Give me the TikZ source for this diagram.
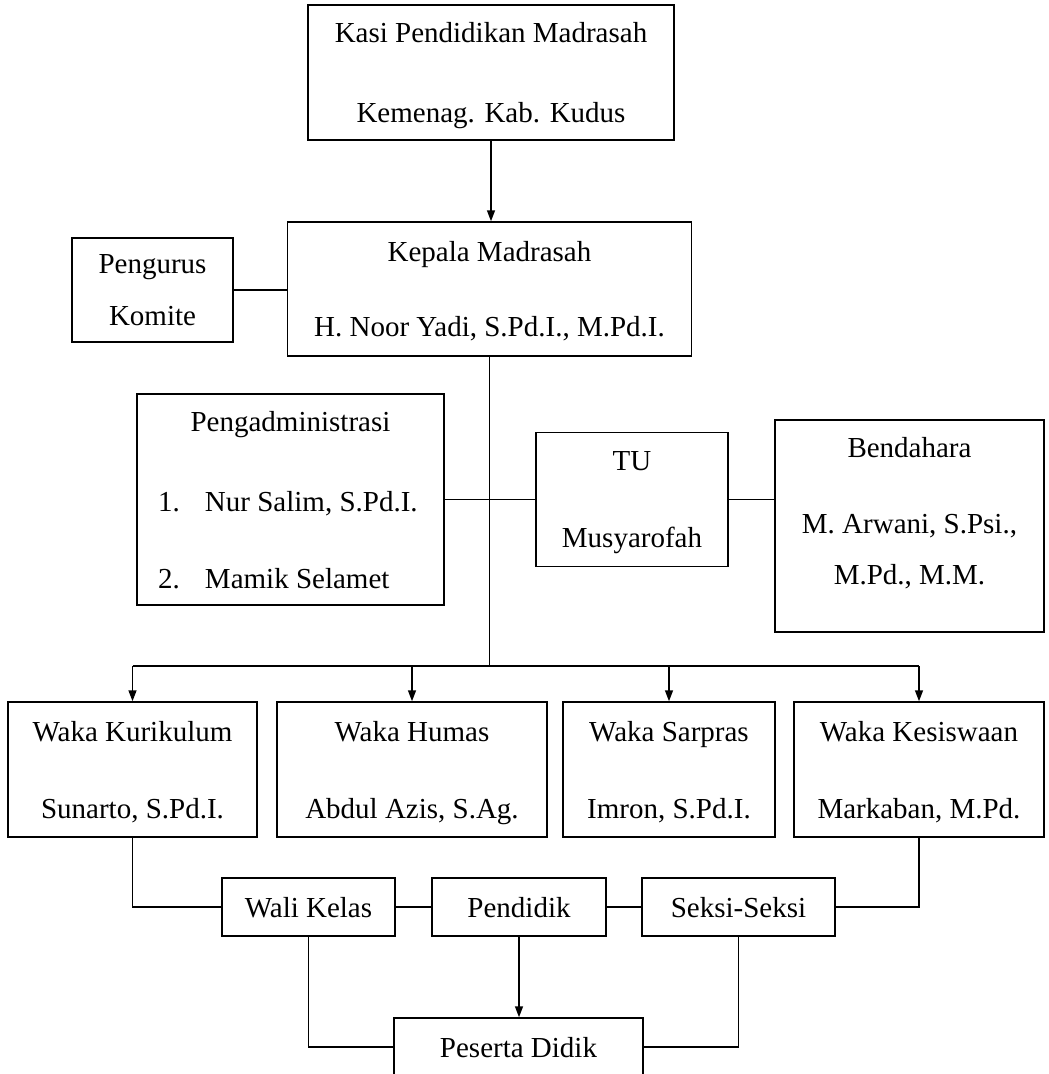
\documentclass[tikz,border=0pt]{standalone}
\usepackage{fontspec}
\setmainfont{Liberation Serif}
\usetikzlibrary{arrows.meta}

\newcommand{\adminrow}[2]{\makebox[265pt][l]{\makebox[47pt][l]{#1}#2}}

\begin{document}
\begin{tikzpicture}[x=1pt, y=-1pt, line width=1.5pt,
      font=\fontsize{29}{34}\selectfont,
      box/.style = {shape=rectangle, draw, align=center, inner sep=0pt, text depth=0pt},
      arr/.style = {-{Triangle[length=11pt,width=8pt]}}]
  \useasboundingbox (0,0) rectangle (1049,1074);
  \node[box, minimum width=366, minimum height=135] (kasi) at (491,72.5)
    {Kasi Pendidikan Madrasah\\[46pt]Kemenag. Kab. Kudus};
  \node[box, minimum width=404, minimum height=134] (kepala) at (489.5,289)
    {Kepala Madrasah\\[41pt]H. Noor Yadi, S.Pd.I., M.Pd.I.};
  \node[box, minimum width=161, minimum height=104] (komite) at (152.5,290)
    {Pengurus\\[18pt]Komite};
  \node[box, minimum width=307, minimum height=211] (admin) at (290.5,499.5)
    {Pengadministrasi\\[46pt]\adminrow{1.}{Nur Salim, S.Pd.I.}\\[43pt]\adminrow{2.}{Mamik Selamet}};
  \node[box, minimum width=192, minimum height=134] (tu) at (632,499.5)
    {TU\\[43pt]Musyarofah};
  \node[box, minimum width=269, minimum height=212, text depth=31pt] (bendahara) at (909.5,526)
    {Bendahara\\[42pt]M. Arwani, S.Psi.,\\[17pt]M.Pd., M.M.};
  % waka
  \node[box, minimum width=249, minimum height=135] (kurikulum) at (132.5,769.5)
    {Waka Kurikulum\\[43pt]Sunarto, S.Pd.I.};
  \node[box, minimum width=270, minimum height=135] (humas) at (412,769.5)
    {Waka Humas\\[43pt]Abdul Azis, S.Ag.};
  \node[box, minimum width=212, minimum height=135] (sarpras) at (669,769.5)
    {Waka Sarpras\\[43pt]Imron, S.Pd.I.};
  \node[box, minimum width=250, minimum height=135] (kesiswaan) at (919,769.5)
    {Waka Kesiswaan\\[43pt]Markaban, M.Pd.};
  % bawah
  \node[box, minimum width=173, minimum height=58] (wali) at (308.5,907) {Wali Kelas};
  \node[box, minimum width=174, minimum height=58] (pendidik) at (519,907) {Pendidik};
  \node[box, minimum width=193, minimum height=58] (seksi) at (738.5,907) {Seksi-Seksi};
  \node[box, minimum width=249, minimum height=58] (peserta) at (518.5,1047) {Peserta Didik};

  \coordinate (hub) at (489.5,666);
  \draw[arr] (kasi.south) -- (kasi.south |- kepala.north);
  \draw (komite.east) -- (komite.east -| kepala.west);
  \draw (kepala.south) -- (hub);
  \draw (admin.east) -- (tu.west);
  \draw (tu.east) -- (tu.east -| bendahara.west);
  \draw (kurikulum.north |- hub) -- (kesiswaan.north |- hub);
  \foreach \n in {kurikulum,humas,sarpras,kesiswaan}
    \draw[arr] (\n.north |- hub) -- (\n.north);
  \draw (kurikulum.south) |- (wali.west);
  \draw (kesiswaan.south) |- (seksi.east);
  \draw (wali) -- (pendidik);
  \draw (pendidik) -- (seksi);
  \draw[arr] (pendidik.south) -- (pendidik.south |- peserta.north);
  \draw (wali.south) |- (peserta.west);
  \draw (seksi.south) |- (peserta.east);
\end{tikzpicture}
\end{document}
